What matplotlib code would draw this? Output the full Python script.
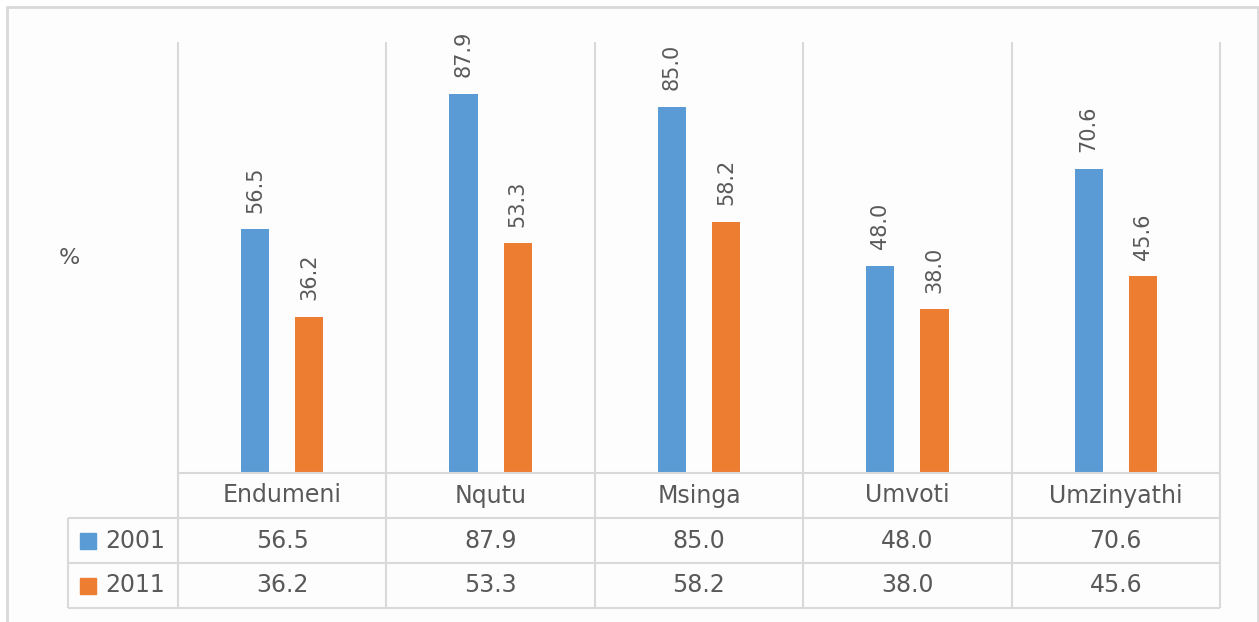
import matplotlib.pyplot as plt
import numpy as np
from matplotlib.patches import Rectangle

areas = ["Endumeni", "Nqutu", "Msinga", "Umvoti", "Umzinyathi"]
years = ["2001", "2011"]
values_2001 = [56.5, 87.9, 85.0, 48.0, 70.6]
values_2011 = [36.2, 53.3, 58.2, 38.0, 45.6]
bar_colors = ["#5B9BD5", "#ED7D31"]

TEXT = "#595959"
GRID = "#D9D9D9"
W, H = 1259, 622

plt.rcParams["font.family"] = ["DejaVu Sans"]
fig = plt.figure(figsize=(W / 100, H / 100), dpi=100)
fig.patch.set_facecolor("white")


# pixel box (left, top, right, bottom) -> figure fraction rect
def px(x0, y0, x1, y1):
    return [x0 / W, 1 - y1 / H, (x1 - x0) / W, (y1 - y0) / H]


# chart area frame
fig.add_artist(Rectangle((7 / W, -0.05), (1258 - 7) / W, 1 - 7 / H + 0.05,
                         transform=fig.transFigure, facecolor="#FDFDFD",
                         edgecolor=GRID, lw=2.0, zorder=0))

# --- bars ---
ax = fig.add_axes(px(178, 42, 1220, 473))
ax.set_facecolor("none")
x = np.arange(len(areas))
off, bw = 0.13, 0.135
series = [values_2001, values_2011]
for i, vals in enumerate(series):
    xs = x + (off if i else -off)
    ax.bar(xs, vals, width=bw, color=bar_colors[i], zorder=3)
    for xi, v in zip(xs, vals):
        ax.annotate(f"{v:.1f}", (xi, v), xytext=(0, 12), textcoords="offset points",
                    rotation=90, ha="center", va="bottom", fontsize=15, color=TEXT)
ax.set_xlim(-0.5, len(areas) - 0.5)
ax.set_ylim(0, 100)
ax.axis("off")
ax.vlines(np.arange(len(areas) + 1) - 0.5, 0, 100, color=GRID, lw=1.5, clip_on=False)

fig.text(69 / W, 1 - 258 / H, "%", ha="center", va="center", fontsize=16, color=TEXT)

# --- data table ---
left_pad = 110 / 208.4
tb = fig.add_axes(px(68, 473, 1220, 608))
tb.set_facecolor("none")
tb.set_xlim(-0.5 - left_pad, len(areas) - 0.5)
tb.set_ylim(3, 0)
tb.axis("off")

tb.hlines(0, -0.5, len(areas) - 0.5, color=GRID, lw=1.5, clip_on=False)
tb.hlines([1, 2, 3], -0.5 - left_pad, len(areas) - 0.5, color=GRID, lw=1.5, clip_on=False)
tb.vlines(np.arange(len(areas) + 1) - 0.5, 0, 3, color=GRID, lw=1.5, clip_on=False)
tb.vlines(-0.5 - left_pad, 1, 3, color=GRID, lw=1.5, clip_on=False)

for xi, name in zip(x, areas):
    tb.text(xi, 0.5, name, ha="center", va="center", fontsize=17, color=TEXT)
for r, (yr, vals) in enumerate(zip(years, series)):
    row = r + 1.5
    tb.plot(-0.932, row, marker="s", ms=11, color=bar_colors[r], clip_on=False)
    tb.text(-0.85, row, yr, ha="left", va="center", fontsize=17, color=TEXT)
    for xi, v in zip(x, vals):
        tb.text(xi, row, f"{v:.1f}", ha="center", va="center", fontsize=17, color=TEXT)

fig.savefig("out.png", dpi=100)
